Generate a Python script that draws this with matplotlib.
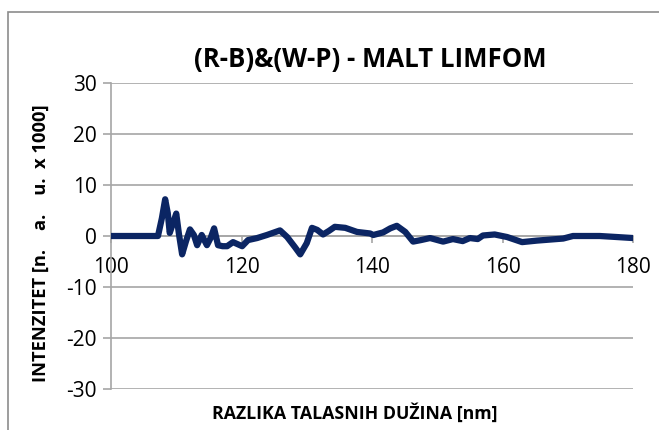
import matplotlib
matplotlib.use('Agg')
import matplotlib.pyplot as plt
import matplotlib.patches as patches

# wavelength difference [nm] and intensity [n. a. u. x 1000]
wl = [100, 107.2, 107.8, 108.3, 108.7, 109.0, 109.5, 110.0, 110.4, 110.9, 111.5, 112.1,
      112.7, 113.2, 113.9, 114.7, 115.3, 115.8, 116.4, 117.1, 117.8, 118.7, 119.4,
      120.1, 121.0, 122.4, 123.9, 125.9, 127.0, 128.2, 129.0, 130.0, 130.8, 131.6,
      132.5, 133.4, 134.3, 135.9, 137.7, 139.7, 140.2, 141.7, 142.8, 143.8, 145.1,
      146.3, 147.5, 148.9, 150.9, 152.4, 153.9, 155.0, 156.2, 157.0, 158.8, 160.7,
      163.0, 165.3, 169.3, 170.8, 174.9, 177.5, 180]
inten = [0, 0, 3.5, 7.2, 4.5, 0.6, 2.5, 4.4, 0.5, -3.6, -1.0, 1.3,
         0.2, -1.8, 0.2, -1.8, -0.3, 1.5, -1.8, -2.0, -2.0, -1.2, -1.6,
         -2.0, -0.8, -0.4, 0.2, 1.1, -0.2, -2.2, -3.6, -1.4, 1.6, 1.2,
         0.3, 1.0, 1.8, 1.6, 0.8, 0.5, 0.2, 0.7, 1.5, 2.0, 0.8,
         -1.1, -0.8, -0.4, -1.1, -0.6, -1.0, -0.4, -0.6, 0.1, 0.3, -0.2,
         -1.2, -0.9, -0.5, 0.0, 0.0, -0.2, -0.4]

title = '(R-B)&(W-P) - MALT LIMFOM'
xlab = 'RAZLIKA TALASNIH DUŽINA [nm]'
ylab = 'INTENZITET [n.    a.    u.  x 1000]'

plt.rcParams['font.family'] = ['Open Sans', 'DejaVu Sans']
plt.rcParams['axes.unicode_minus'] = False
grid_c = '#a6a6a6'

fig = plt.figure(figsize=(6.59, 4.30), dpi=100)
# outer chart frame (only top and left edges are visible)
fig.patches.append(patches.Rectangle((8/659, -0.2), 1.2, 1.2 - 12/430,
                                     transform=fig.transFigure, fill=False,
                                     edgecolor='#8c8c8c', lw=1.2))

ax = fig.add_axes([111/659, 41/430, 522/659, 306/430])
ax.plot(wl, inten, color='#0b2563', lw=4.5, solid_joinstyle='round',
        solid_capstyle='round', zorder=3)

ax.set_xlim(100, 180)
ax.set_ylim(-30, 30)
ax.set_xticks(range(100, 181, 20))
ax.set_yticks(range(-30, 31, 10))
ax.yaxis.grid(True, color=grid_c, lw=1.2)
ax.set_axisbelow(True)

for s in ['top', 'right']:
    ax.spines[s].set_visible(False)
ax.spines['left'].set_color(grid_c)
ax.spines['left'].set_linewidth(1.2)
ax.spines['bottom'].set_position(('data', 0))
ax.spines['bottom'].set_color(grid_c)
ax.spines['bottom'].set_linewidth(1.2)

ax.tick_params(axis='x', direction='out', length=5, width=1.2, color=grid_c,
               labelsize=15, pad=10)
ax.tick_params(axis='y', direction='out', length=6, width=1.2, color=grid_c,
               labelsize=15, pad=4)

fig.text(370/659, 1 - 60/430, title, ha='center', va='center',
         fontsize=18.5, fontweight='bold')
fig.text(355/659, 1 - 413/430, xlab, ha='center', va='center',
         fontsize=12.8, fontweight='bold')
fig.text(41/659, 1 - 243/430, ylab, ha='center', va='center', rotation=90,
         fontsize=13.2, fontweight='bold')

fig.savefig('out.png', dpi=100)
